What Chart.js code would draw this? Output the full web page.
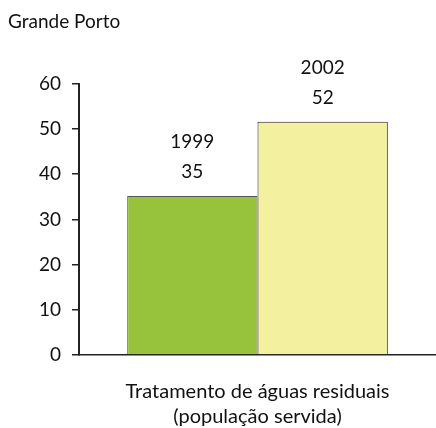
<!DOCTYPE html>
<html>
<head>
<meta charset="utf-8">
<script src="https://cdn.jsdelivr.net/npm/chart.js@4"></script>
<style>
  html, body { margin: 0; padding: 0; background: #fff; }
  #wrap { width: 436px; height: 428px; }
</style>
</head>
<body>
<div id="wrap"><canvas id="chartCanvas" width="436" height="428"></canvas></div>
<script>
const regionTitle = "Grande Porto";
const categories = [["Tratamento de águas residuais", "(população servida)"]];
const years = ["1999", "2002"];
const served = [35.2, 51.6];
const barColors = ["#97c33c", "#f3f0a0"];
const yTicks = [0, 10, 20, 30, 40, 50, 60];

const fontFamily = "Lato, 'Open Sans', sans-serif";

// writes the year and the rounded value above each bar
const barLabels = {
  id: "barLabels",
  afterDatasetsDraw(chart) {
    const ctx = chart.ctx;
    ctx.save();
    ctx.fillStyle = "#111";
    ctx.font = "19px " + fontFamily;
    ctx.textAlign = "center";
    ctx.textBaseline = "middle";
    chart.data.datasets.forEach((ds, i) => {
      chart.getDatasetMeta(i).data.forEach((bar, j) => {
        ctx.fillText(ds.label, bar.x, bar.y - 54);
        ctx.fillText(Math.round(ds.data[j]), bar.x, bar.y - 24);
      });
    });
    ctx.restore();
  }
};

const chart = new Chart(chartCanvas, {
  type: "bar",
  data: {
    labels: categories,
    datasets: years.map((y, i) => ({
      label: y,
      data: [served[i]],
      backgroundColor: barColors[i],
      borderColor: i === 0 ? "#555" : "#222",
      borderWidth: 1,
      borderSkipped: "bottom"
    }))
  },
  options: {
    responsive: false,
    animation: false,
    layout: { padding: { left: 8, right: 0, top: 0, bottom: 0 } },
    datasets: { bar: { categoryPercentage: 0.73, barPercentage: 1 } },
    plugins: {
      legend: { display: false },
      tooltip: { enabled: false },
      title: {
        display: true,
        text: regionTitle,
        align: "start",
        color: "#111",
        font: { family: fontFamily, size: 19, weight: "normal" },
        padding: { top: 10, bottom: 51 }
      }
    },
    scales: {
      x: {
        grid: { display: false },
        border: { display: true, color: "#222", width: 1.5 },
        afterFit: axis => { axis.height = 73; },
        ticks: {
          color: "#111",
          padding: 16,
          font: { family: fontFamily, size: 20, lineHeight: 1.25 }
        }
      },
      y: {
        min: 0,
        max: 60,
        afterBuildTicks: axis => { axis.ticks = yTicks.map(v => ({ value: v })); },
        afterFit: axis => { axis.width = 71; },
        grid: { drawOnChartArea: false, drawTicks: true, tickLength: 7, color: "#222", lineWidth: 1.5 },
        border: { display: true, color: "#222", width: 2 },
        ticks: {
          color: "#111",
          padding: 11,
          font: { family: fontFamily, size: 19 }
        }
      }
    }
  },
  plugins: [barLabels]
});
</script>
</body>
</html>
